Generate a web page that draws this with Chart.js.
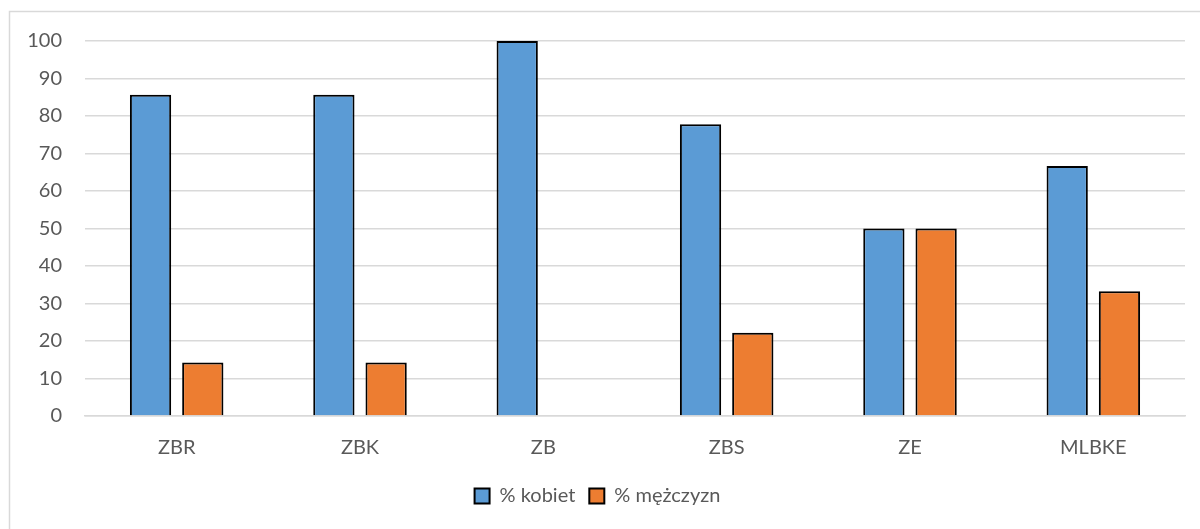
<!DOCTYPE html>
<html>
<head>
<meta charset="utf-8">
<script src="https://cdn.jsdelivr.net/npm/chart.js@4"></script>
<style>
  body { margin: 0; background: #fff; }
  canvas { display: block; }
</style>
</head>
<body>
<canvas id="myChart" width="1200" height="529"></canvas>
<script>
const categories = ["ZBR", "ZBK", "ZB", "ZBS", "ZE", "MLBKE"]
const kobiety = [85.7, 85.7, 100, 77.8, 50, 66.7]
const mezczyzni = [14.3, 14.3, 0, 22.2, 50, 33.3]
const seriesNames = ["% kobiet", "% mężczyzn"]

// light grey frame round the chart, like the office export
const frame = {
    id: "frame",
    beforeDraw(chart) {
        const c = chart.ctx
        c.save()
        c.fillStyle = "#fff"
        c.fillRect(0, 0, chart.width, chart.height)
        c.strokeStyle = "#d9d9d9"
        c.lineWidth = 1.5
        c.strokeRect(9.5, 11.5, 1300, 600)
        c.restore()
    }
}

const font = { family: "Lato, 'Open Sans', sans-serif", size: 20 }

const ctx = document.getElementById("myChart").getContext("2d")
new Chart(ctx, {
    type: "bar",
    data: {
        labels: categories,
        datasets: [{
            label: seriesNames[0],
            data: kobiety,
            backgroundColor: "#5b9bd5",
            borderColor: "#000",
            borderWidth: 2,
            borderSkipped: "bottom"
        }, {
            label: seriesNames[1],
            data: mezczyzni,
            backgroundColor: "#ed7d31",
            borderColor: "#000",
            borderWidth: 2,
            borderSkipped: "bottom"
        }]
    },
    options: {
        responsive: false,
        animation: false,
        categoryPercentage: 0.57,
        barPercentage: 0.79,
        layout: { padding: { left: 10, right: 15, top: 41, bottom: 13 } },
        scales: {
            x: {
                grid: { display: false },
                border: { color: "#d9d9d9", width: 1.5 },
                ticks: { color: "#595959", font: font, padding: 12 }
            },
            y: {
                min: 0,
                max: 100,
                ticks: { stepSize: 10, color: "#595959", font: font, padding: 23 },
                grid: { color: "#d9d9d9", lineWidth: 1.5, drawTicks: false },
                border: { display: false },
                afterFit: (scale) => { scale.width = 75 }
            }
        },
        plugins: {
            legend: {
                position: "bottom",
                labels: {
                    color: "#595959",
                    font: font,
                    boxWidth: 15,
                    boxHeight: 15,
                    padding: 14
                }
            },
            tooltip: { enabled: false }
        }
    },
    plugins: [frame]
})
</script>
</body>
</html>
